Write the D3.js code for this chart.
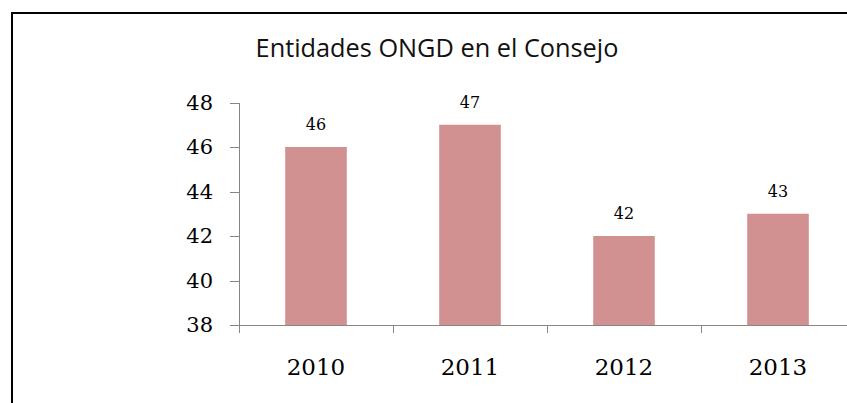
<!DOCTYPE html>
<html>
<head>
<meta charset="utf-8">
<script src="https://cdn.jsdelivr.net/npm/d3@7"></script>
<style>
  html, body { margin: 0; padding: 0; background: #fff; overflow: hidden; }
  svg { display: block; }
  .axis path, .axis line { stroke: #868686; shape-rendering: crispEdges; }
  .axis text { fill: #000; font-family: 'DejaVu Serif', serif; }
</style>
</head>
<body>
<div id="chart"></div>
<script>
// ---------- Data ----------
const years = ['2010', '2011', '2012', '2013']
const entidades = [46, 47, 42, 43]
const yTicks = [38, 40, 42, 44, 46, 48]

const title = 'Entidades ONGD en el Consejo'

// ---------- Dimensions ----------
const width = 847
const height = 403
const plot = { left: 239, right: 855, top: 102.5, bottom: 325 }

const svg = d3.select('#chart')
  .append('svg')
  .attr('width', width)
  .attr('height', height)

// outer frame: only its top and left edges fall inside the crop
const frame = svg.append('g')
  .attr('stroke', '#000')
  .attr('stroke-width', 2)
frame.append('line').attr('x1', 11).attr('x2', 847).attr('y1', 13).attr('y2', 13)
frame.append('line').attr('x1', 12).attr('x2', 12).attr('y1', 12).attr('y2', 403)

// ---------- Scales ----------
const x = d3.scaleBand()
  .domain(years)
  .range([plot.left, plot.right])
  .paddingInner(0.6)
  .paddingOuter(0.3)

const y = d3.scaleLinear()
  .domain([38, 48])
  .range([plot.bottom, plot.top])

// ---------- Title ----------
svg.append('text')
  .attr('x', 437)
  .attr('y', 57)
  .attr('text-anchor', 'middle')
  .attr('font-family', "'Open Sans', sans-serif")
  .attr('font-size', 25.3)
  .attr('fill', '#111')
  .text(title)

// ---------- Bars ----------
const data = years.map((yr, i) => ({ year: yr, value: entidades[i] }))

svg.append('g')
  .selectAll('rect')
  .data(data)
  .join('rect')
  .attr('x', d => x(d.year))
  .attr('y', d => y(d.value))
  .attr('width', x.bandwidth())
  .attr('height', d => y(38) - y(d.value))
  .attr('fill', '#D19191')

// value labels
svg.append('g')
  .selectAll('text')
  .data(data)
  .join('text')
  .attr('x', d => x(d.year) + x.bandwidth() / 2)
  .attr('y', d => y(d.value) - 17)
  .attr('text-anchor', 'middle')
  .attr('font-family', "'DejaVu Serif', serif")
  .attr('font-size', 16)
  .text(d => d.value)

// ---------- Axes ----------
svg.append('g')
  .attr('class', 'axis y-axis')
  .attr('transform', `translate(${plot.left},0)`)
  .call(d3.axisLeft(y).tickValues(yTicks).tickSize(9).tickSizeOuter(0).tickPadding(17))
  .call(ax => ax.selectAll('text').attr('font-size', 21))

// x axis: ticks sit on category boundaries
const xBound = d3.scaleLinear().domain([0, years.length]).range([plot.left, plot.right])
const xAxis = svg.append('g')
  .attr('class', 'axis x-axis')
  .attr('transform', `translate(0,${plot.bottom})`)

xAxis.append('line')
  .attr('x1', plot.left)
  .attr('x2', plot.right)
  .attr('y1', 0)
  .attr('y2', 0)

xAxis.selectAll('.tick-mark')
  .data(d3.range(years.length + 1))
  .join('line')
  .attr('class', 'tick-mark')
  .attr('x1', i => xBound(i))
  .attr('x2', i => xBound(i))
  .attr('y1', 0)
  .attr('y2', 8)

xAxis.selectAll('.tick-label')
  .data(years)
  .join('text')
  .attr('class', 'tick-label')
  .attr('x', d => x(d) + x.bandwidth() / 2)
  .attr('y', 50)
  .attr('text-anchor', 'middle')
  .attr('font-size', 23)
  .text(d => d)
</script>
</body>
</html>
